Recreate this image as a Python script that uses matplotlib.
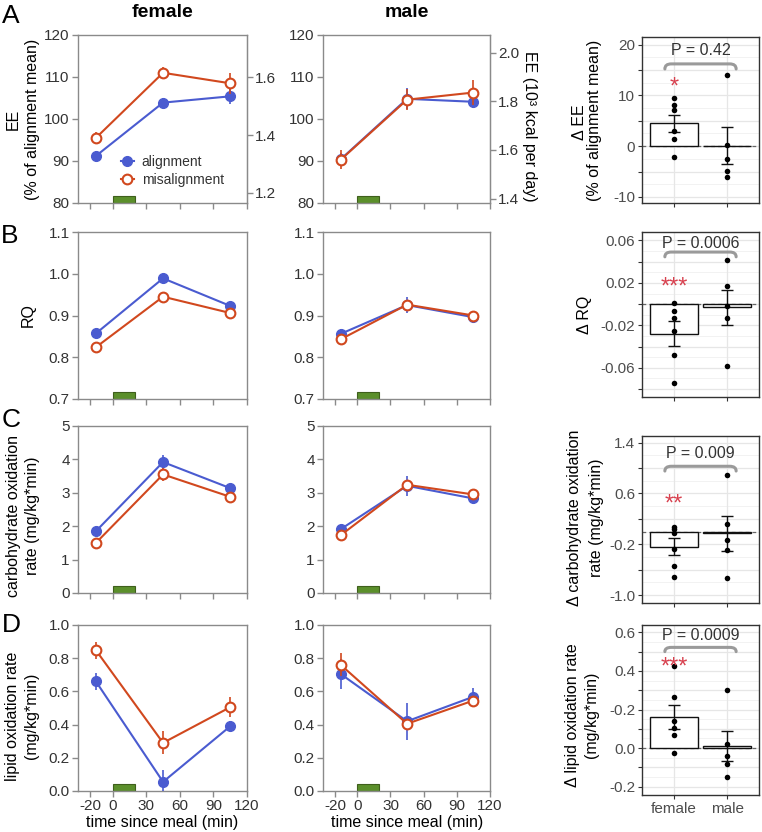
import numpy as np
import matplotlib
matplotlib.use('Agg')
import matplotlib.pyplot as plt
from matplotlib.path import Path
from matplotlib.patches import PathPatch, Rectangle
from matplotlib.lines import Line2D

plt.rcParams['font.family'] = ['Liberation Sans', 'DejaVu Sans']
plt.rcParams['axes.unicode_minus'] = False

# ---------------- data ----------------
time_min = [-15, 45, 105]
meal_window = (0, 20)

# EE (% of alignment mean)
ee_f_al = [91.2, 103.9, 105.4]; ee_f_al_se = [1.3, 1.2, 1.8]
ee_f_mi = [95.5, 111.0, 108.5]; ee_f_mi_se = [1.5, 1.5, 2.5]
ee_m_al = [90.4, 104.8, 104.1]; ee_m_al_se = [1.5, 2.5, 1.5]
ee_m_mi = [90.3, 104.6, 106.3]; ee_m_mi_se = [2.3, 2.5, 3.0]
ee_mean_kcal_f = 1.456   # 10^3 kcal/day corresponding to 100 %
ee_mean_kcal_m = 1.727

# RQ
rq_f_al = [0.857, 0.989, 0.923]; rq_f_al_se = [0.005, 0.008, 0.005]
rq_f_mi = [0.824, 0.945, 0.906]; rq_f_mi_se = [0.005, 0.010, 0.005]
rq_m_al = [0.856, 0.925, 0.896]; rq_m_al_se = [0.012, 0.020, 0.006]
rq_m_mi = [0.843, 0.926, 0.900]; rq_m_mi_se = [0.008, 0.010, 0.006]

# carbohydrate oxidation rate
cho_f_al = [1.85, 3.92, 3.14]; cho_f_al_se = [0.08, 0.20, 0.12]
cho_f_mi = [1.50, 3.55, 2.88]; cho_f_mi_se = [0.07, 0.20, 0.12]
cho_m_al = [1.91, 3.21, 2.83]; cho_m_al_se = [0.12, 0.30, 0.12]
cho_m_mi = [1.73, 3.24, 2.95]; cho_m_mi_se = [0.10, 0.12, 0.10]

# lipid oxidation rate
lip_f_al = [0.660, 0.055, 0.390]; lip_f_al_se = [0.05, 0.07, 0.03]
lip_f_mi = [0.848, 0.290, 0.505]; lip_f_mi_se = [0.05, 0.07, 0.06]
lip_m_al = [0.705, 0.420, 0.568]; lip_m_al_se = [0.09, 0.11, 0.05]
lip_m_mi = [0.760, 0.405, 0.545]; lip_m_mi_se = [0.07, 0.03, 0.03]

# delta panels (misalignment - alignment)
groups = ['female', 'male']
dee_mean = [4.5, 0.1]; dee_se = [1.7, 3.6]
dee_f_pts = [9.5, 8.1, 7.2, 2.9, 1.5, -2.2]
dee_m_pts = [14.0, 0.3, -2.5, -4.9, -6.0]
dee_p = 'P = 0.42'; dee_star = '*'

drq_mean = [-0.028, -0.003]; drq_se = [0.0117, 0.0163]
drq_f_pts = [0.001, -0.006, -0.013, -0.025, -0.048, -0.0746]
drq_m_pts = [0.042, 0.0173, -0.0016, -0.0129, -0.0583]
drq_p = 'P = 0.0006'; drq_star = '***'

dcho_mean = [-0.24, -0.03]; dcho_se = [0.137, 0.27]
dcho_f_pts = [0.068, 0.04, -0.02, -0.283, -0.54, -0.72]
dcho_m_pts = [0.885, 0.125, -0.126, -0.294, -0.73]
dcho_p = 'P = 0.009'; dcho_star = '**'

dlip_mean = [0.163, 0.010]; dlip_se = [0.063, 0.078]
dlip_f_pts = [0.426, 0.264, 0.143, 0.104, 0.070, -0.026]
dlip_m_pts = [0.299, 0.023, -0.040, -0.083, -0.148]
dlip_p = 'P = 0.0009'; dlip_star = '***'

# ---------------- style ----------------
BLUE = '#4a5bd0'
ORANGE = '#d1481e'
GREEN = '#5b8f2b'
DKGREEN = '#3f5f1c'
SPINE = '#8a8a8a'
TXT = '#333333'
STAR = '#d8414f'
TICKFS = 11
LABFS = 11.5

W, H = 762, 832
fig = plt.figure(figsize=(W / 100, H / 100), dpi=100)


def ax_px(x0, y0, x1, y1):
    return fig.add_axes([x0 / W, 1 - y1 / H, (x1 - x0) / W, (y1 - y0) / H])


def ftext(x, y, s, **kw):
    return fig.text(x / W, 1 - y / H, s, **kw)


def time_panel(ax, al, al_se, mi, mi_se, ylim, yticks, fmt, xlabels):
    ax.set_xlim(-31, 120)
    ax.set_ylim(*ylim)
    ax.errorbar(time_min, al, yerr=al_se, color=BLUE, marker='o', ms=7,
                lw=1.5, elinewidth=1.2, capsize=0, zorder=3)
    ax.errorbar(time_min, mi, yerr=mi_se, color=ORANGE, marker='o', ms=7,
                mfc='white', mec=ORANGE, mew=1.5, lw=1.5, elinewidth=1.2,
                capsize=0, zorder=4)
    h = 0.04 * (ylim[1] - ylim[0])
    ax.add_patch(Rectangle((meal_window[0], ylim[0]), meal_window[1] - meal_window[0], h,
                           fc=GREEN, ec=DKGREEN, lw=0.8, zorder=2))
    for s in ax.spines.values():
        s.set_color(SPINE)
        s.set_linewidth(1.0)
    ax.set_xticks([-20, 0, 30, 60, 90, 120])
    ax.set_yticks(yticks)
    ax.set_yticklabels([fmt.format(v) for v in yticks])
    if not xlabels:
        ax.set_xticklabels([])
    ax.tick_params(direction='out', length=4, width=1, color=SPINE,
                   labelcolor=TXT, labelsize=TICKFS, pad=2)


def bracket(ax, x0, x1, y, drop, r=0.12):
    verts = [(x0, y - drop), (x0, y), (x0 + r, y), (x1 - r, y), (x1, y), (x1, y - drop)]
    codes = [Path.MOVETO, Path.CURVE3, Path.CURVE3, Path.LINETO, Path.CURVE3, Path.CURVE3]
    ax.add_patch(PathPatch(Path(verts, codes), fc='none', ec='#9a9a9a', lw=2.2,
                           capstyle='round', zorder=5))


def delta_panel(ax, means, ses, fpts, mpts, ylim, ticks, labels, minor,
                ptxt, py, by, bdrop, star, sy, xlabels):
    ax.set_xlim(0.4, 2.6)
    ax.set_ylim(*ylim)
    ax.set_facecolor('white')
    for v in minor:
        ax.axhline(v, color='#f0f0f0', lw=0.6, zorder=0)
    for v in ticks:
        ax.axhline(v, color='#e6e6e6', lw=0.9, zorder=0)
    for v in [1, 2]:
        ax.axvline(v, color='#e6e6e6', lw=0.9, zorder=0)
    ax.axhline(0, color='#666666', lw=0.9, ls=(0, (3, 2.5)), zorder=1)
    ax.bar([1, 2], means, width=0.9, color='white', edgecolor='#111111', lw=1.0, zorder=2)
    ax.errorbar([1, 2], means, yerr=ses, fmt='none', ecolor='#111111',
                elinewidth=1.0, capsize=4, capthick=1.0, zorder=3)
    ax.scatter(np.full(len(fpts), 1.0), fpts, s=16, c='black', zorder=4, lw=0)
    ax.scatter(np.full(len(mpts), 2.0), mpts, s=16, c='black', zorder=4, lw=0)
    bracket(ax, 0.83, 2.17, by, bdrop)
    ax.text(1.5, py, ptxt, ha='center', va='center', fontsize=11.5, color=TXT, zorder=6)
    ax.annotate(star, xy=(1.0, sy), xytext=(0, -0.6 * 17), textcoords='offset points',
                ha='center', va='baseline', fontsize=17, color=STAR, zorder=6)
    ax.set_yticks(ticks)
    ax.set_yticklabels(labels)
    ax.set_xticks([1, 2])
    if xlabels:
        ax.set_xticklabels(groups)
    else:
        ax.set_xticklabels([])
    for s in ax.spines.values():
        s.set_color('#333333')
        s.set_linewidth(1.0)
    ax.tick_params(direction='out', length=3, width=0.8, color='#333333',
                   labelcolor='#4d4d4d', labelsize=TICKFS, pad=2)


# ---------------- axes ----------------
LX = (78, 247)
MX = (323, 490)
RX = (642, 759)
rows = [(35, 203), (232, 399), (426, 593), (625, 791)]
rrows = [(37, 203), (232, 397), (436, 603), (625, 795)]

axA1 = ax_px(LX[0], rows[0][0], LX[1], rows[0][1])
axA2 = ax_px(MX[0], rows[0][0], MX[1], rows[0][1])
axB1 = ax_px(LX[0], rows[1][0], LX[1], rows[1][1])
axB2 = ax_px(MX[0], rows[1][0], MX[1], rows[1][1])
axC1 = ax_px(LX[0], rows[2][0], LX[1], rows[2][1])
axC2 = ax_px(MX[0], rows[2][0], MX[1], rows[2][1])
axD1 = ax_px(LX[0], rows[3][0], LX[1], rows[3][1])
axD2 = ax_px(MX[0], rows[3][0], MX[1], rows[3][1])

time_panel(axA1, ee_f_al, ee_f_al_se, ee_f_mi, ee_f_mi_se, (80, 120), [80, 90, 100, 110, 120], '{:.0f}', False)
time_panel(axA2, ee_m_al, ee_m_al_se, ee_m_mi, ee_m_mi_se, (80, 120), [80, 90, 100, 110, 120], '{:.0f}', False)
time_panel(axB1, rq_f_al, rq_f_al_se, rq_f_mi, rq_f_mi_se, (0.7, 1.1), [0.7, 0.8, 0.9, 1.0, 1.1], '{:.1f}', False)
time_panel(axB2, rq_m_al, rq_m_al_se, rq_m_mi, rq_m_mi_se, (0.7, 1.1), [0.7, 0.8, 0.9, 1.0, 1.1], '{:.1f}', False)
time_panel(axC1, cho_f_al, cho_f_al_se, cho_f_mi, cho_f_mi_se, (0, 5), [0, 1, 2, 3, 4, 5], '{:.0f}', False)
time_panel(axC2, cho_m_al, cho_m_al_se, cho_m_mi, cho_m_mi_se, (0, 5), [0, 1, 2, 3, 4, 5], '{:.0f}', False)
time_panel(axD1, lip_f_al, lip_f_al_se, lip_f_mi, lip_f_mi_se, (0, 1.0), [0, 0.2, 0.4, 0.6, 0.8, 1.0], '{:.1f}', True)
time_panel(axD2, lip_m_al, lip_m_al_se, lip_m_mi, lip_m_mi_se, (0, 1.0), [0, 0.2, 0.4, 0.6, 0.8, 1.0], '{:.1f}', True)

# twin kcal axes on EE panels
for ax, k, tks in [(axA1, ee_mean_kcal_f, [1.2, 1.4, 1.6]), (axA2, ee_mean_kcal_m, [1.4, 1.6, 1.8, 2.0])]:
    tw = ax.twinx()
    lo, hi = ax.get_ylim()
    tw.set_ylim(lo * k / 100, hi * k / 100)
    tw.set_yticks(tks)
    tw.set_yticklabels(['{:.1f}'.format(v) for v in tks])
    for s in tw.spines.values():
        s.set_visible(False)
    tw.spines['right'].set_visible(True)
    tw.spines['right'].set_color(SPINE)
    tw.tick_params(direction='out', length=4, width=1, color=SPINE,
                   labelcolor=TXT, labelsize=TICKFS, pad=2)

# legend
handles = [Line2D([], [], color=BLUE, marker='o', ms=7, lw=1.5),
           Line2D([], [], color=ORANGE, marker='o', ms=7, mfc='white', mec=ORANGE, mew=1.5, lw=1.5)]
axA1.legend(handles, ['alignment', 'misalignment'], loc='upper left',
            bbox_to_anchor=((121 - 78) / 169, (203 - 155) / 168), frameon=False,
            fontsize=10, handlelength=0.9, handletextpad=0.6, labelspacing=0.3,
            borderpad=0, borderaxespad=0, labelcolor=TXT)

# delta panels
rA = ax_px(RX[0], rrows[0][0], RX[1], rrows[0][1])
rB = ax_px(RX[0], rrows[1][0], RX[1], rrows[1][1])
rC = ax_px(RX[0], rrows[2][0], RX[1], rrows[2][1])
rD = ax_px(RX[0], rrows[3][0], RX[1], rrows[3][1])

delta_panel(rA, dee_mean, dee_se, dee_f_pts, dee_m_pts, (-11.2, 21.5),
            [-10, -5, 0, 5, 10, 15, 20], ['-10', '', '0', '', '10', '', '20'],
            [-7.5, -2.5, 2.5, 7.5, 12.5, 17.5],
            dee_p, 18.8, 16.2, 1.0, dee_star, 13.1, False)
delta_panel(rB, drq_mean, drq_se, drq_f_pts, drq_m_pts, (-0.0875, 0.068),
            [-0.08, -0.06, -0.04, -0.02, 0.0, 0.02, 0.04, 0.06],
            ['', '-0.06', '', '-0.02', '', '0.02', '', '0.06'],
            [-0.07, -0.05, -0.03, -0.01, 0.01, 0.03, 0.05],
            drq_p, 0.0576, 0.0491, 0.0045, drq_star, 0.0233, False)
delta_panel(rC, dcho_mean, dcho_se, dcho_f_pts, dcho_m_pts, (-1.126, 1.505),
            [-1.0, -0.6, -0.2, 0.2, 0.6, 1.0, 1.4],
            ['-1.0', '', '-0.2', '', '0.6', '', '1.4'],
            [-0.8, -0.4, 0.0, 0.4, 0.8, 1.2],
            dcho_p, 1.227, 1.028, 0.075, dcho_star, 0.556, False)
delta_panel(rD, dlip_mean, dlip_se, dlip_f_pts, dlip_m_pts, (-0.243, 0.638),
            [-0.2, -0.1, 0.0, 0.1, 0.2, 0.3, 0.4, 0.5, 0.6],
            ['-0.2', '', '0.0', '', '-0.2', '', '0.4', '', '0.6'],
            [-0.15, -0.05, 0.05, 0.15, 0.25, 0.35, 0.45, 0.55],
            dlip_p, 0.583, 0.522, 0.022, dlip_star, 0.461, True)

# ---------------- text ----------------
for lt, (x, y) in zip('ABCD', [(11, 23), (10, 243), (11, 427), (11, 632)]):
    ftext(x, y, lt, ha='center', va='baseline', fontsize=19, color='black')

ftext(163, 17, 'female', ha='center', va='baseline', fontsize=14, fontweight='bold')
ftext(407, 17, 'male', ha='center', va='baseline', fontsize=14, fontweight='bold')

lab = dict(ha='center', va='center', rotation=90, fontsize=LABFS, color='black')
ftext(13.5, 119, 'EE', **lab)
ftext(32.5, 119, '(% of alignment mean)', **lab)
ftext(28, 315, 'RQ', **lab)
ftext(14, 516, 'carbohydrate oxidation', **lab)
ftext(32.5, 516, 'rate (mg/kg*min)', **lab)
ftext(12.5, 716, 'lipid oxidation rate', **lab)
ftext(31.5, 716, '(mg/kg*min)', **lab)

ftext(530, 126, 'EE (10³ kcal per day)', ha='center', va='center', rotation=270, fontsize=LABFS)

ftext(579, 122, 'Δ EE', **lab)
ftext(595, 120, '(% of alignment mean)', **lab)
ftext(585, 315, 'Δ RQ', **lab)
ftext(575, 518, 'Δ carbohydrate oxidation', **lab)
ftext(596, 518, 'rate (mg/kg*min)', **lab)
ftext(572, 715, 'Δ lipid oxidation rate', **lab)
ftext(591, 715, '(mg/kg*min)', **lab)

ftext(162, 822, 'time since meal (min)', ha='center', va='center', fontsize=LABFS)
ftext(407, 822, 'time since meal (min)', ha='center', va='center', fontsize=LABFS)

fig.savefig('out.png', dpi=100)
